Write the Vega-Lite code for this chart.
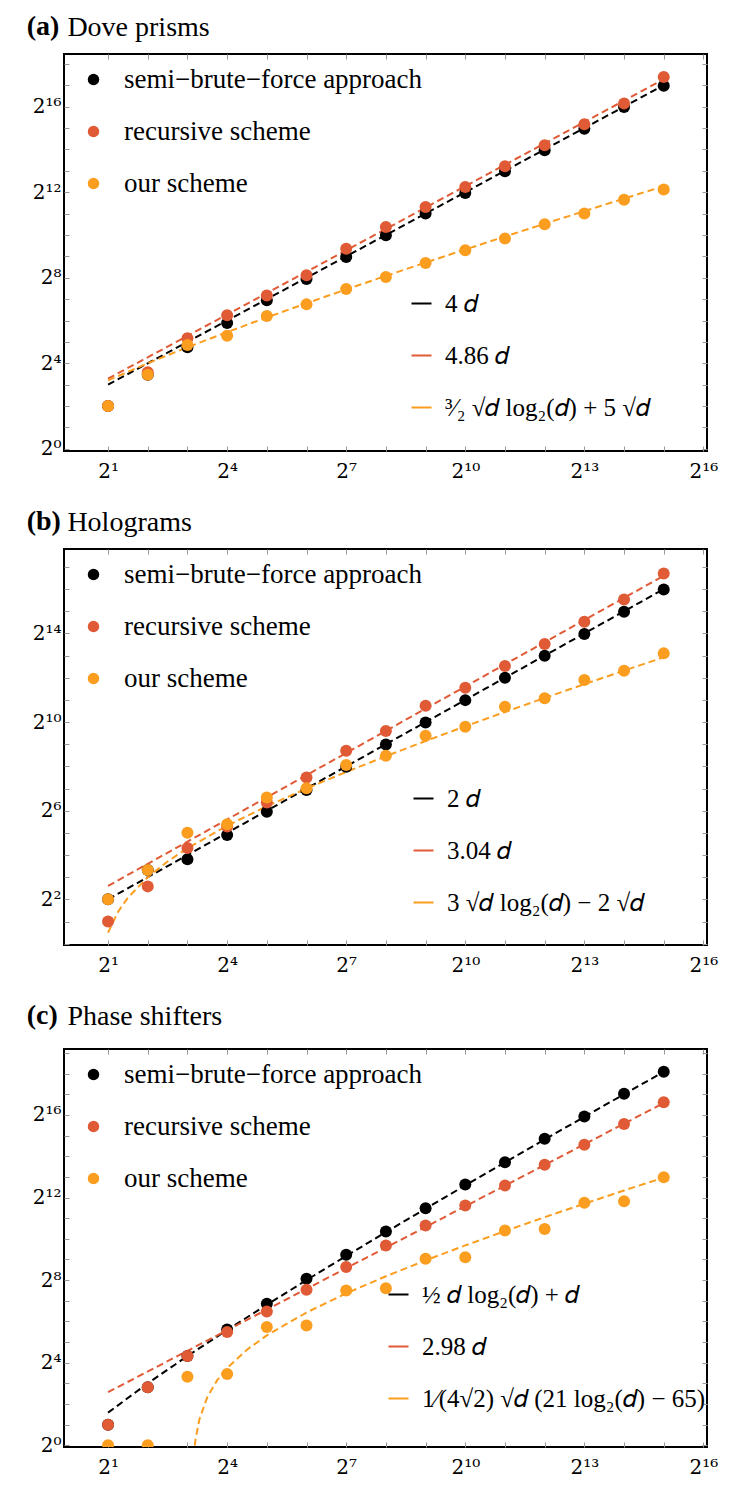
{
  "$schema": "https://vega.github.io/schema/vega-lite/v6.json",
  "background": "white",
  "padding": {"left": 26, "top": 12, "right": 0, "bottom": 0},
  "config": {
    "font": "Liberation Serif",
    "view": {"stroke": "black", "strokeWidth": 2},
    "axis": {"grid": false, "domain": false, "tickColor": "#999999", "tickWidth": 1, "tickSize": -5, "labelFont": "DejaVu Serif", "labelFontSize": 20, "labelColor": "black", "title": null, "labelOverlap": false, "labelFlush": false},
    "legend": {"labelFont": "Liberation Serif", "labelFontSize": 27, "labelColor": "black", "padding": 0, "rowPadding": 24, "labelLimit": 400},
    "title": {"font": "Liberation Serif", "fontSize": 28, "color": "black", "anchor": "start", "frame": "group", "baseline": "alphabetic"}
  },
  "resolve": {"scale": {"color": "independent", "stroke": "independent", "x": "independent", "y": "independent"}, "legend": {"color": "independent", "stroke": "independent"}},
  "spacing": 25,
  "datasets": {
    "a_pts": [
      {"method": "semi−brute−force approach", "d": 2, "gates": 4},
      {"method": "semi−brute−force approach", "d": 4, "gates": 11},
      {"method": "semi−brute−force approach", "d": 8, "gates": 27},
      {"method": "semi−brute−force approach", "d": 16, "gates": 59},
      {"method": "semi−brute−force approach", "d": 32, "gates": 123},
      {"method": "semi−brute−force approach", "d": 64, "gates": 246},
      {"method": "semi−brute−force approach", "d": 128, "gates": 502},
      {"method": "semi−brute−force approach", "d": 256, "gates": 1017},
      {"method": "semi−brute−force approach", "d": 512, "gates": 2048},
      {"method": "semi−brute−force approach", "d": 1024, "gates": 3984},
      {"method": "semi−brute−force approach", "d": 2048, "gates": 8079},
      {"method": "semi−brute−force approach", "d": 4096, "gates": 15935},
      {"method": "semi−brute−force approach", "d": 8192, "gates": 32093},
      {"method": "semi−brute−force approach", "d": 16384, "gates": 64640},
      {"method": "semi−brute−force approach", "d": 32768, "gates": 129250},
      {"method": "recursive scheme", "d": 2, "gates": 4},
      {"method": "recursive scheme", "d": 4, "gates": 12},
      {"method": "recursive scheme", "d": 8, "gates": 36},
      {"method": "recursive scheme", "d": 16, "gates": 76},
      {"method": "recursive scheme", "d": 32, "gates": 144},
      {"method": "recursive scheme", "d": 64, "gates": 278},
      {"method": "recursive scheme", "d": 128, "gates": 657},
      {"method": "recursive scheme", "d": 256, "gates": 1323},
      {"method": "recursive scheme", "d": 512, "gates": 2539},
      {"method": "recursive scheme", "d": 1024, "gates": 4837},
      {"method": "recursive scheme", "d": 2048, "gates": 9475},
      {"method": "recursive scheme", "d": 4096, "gates": 18691},
      {"method": "recursive scheme", "d": 8192, "gates": 36880},
      {"method": "recursive scheme", "d": 16384, "gates": 72250},
      {"method": "recursive scheme", "d": 32768, "gates": 170700},
      {"method": "our scheme", "d": 2, "gates": 4},
      {"method": "our scheme", "d": 4, "gates": 11},
      {"method": "our scheme", "d": 8, "gates": 29},
      {"method": "our scheme", "d": 16, "gates": 39},
      {"method": "our scheme", "d": 32, "gates": 74},
      {"method": "our scheme", "d": 64, "gates": 108},
      {"method": "our scheme", "d": 128, "gates": 178},
      {"method": "our scheme", "d": 256, "gates": 263},
      {"method": "our scheme", "d": 512, "gates": 413},
      {"method": "our scheme", "d": 1024, "gates": 626},
      {"method": "our scheme", "d": 2048, "gates": 910},
      {"method": "our scheme", "d": 4096, "gates": 1448},
      {"method": "our scheme", "d": 8192, "gates": 2048},
      {"method": "our scheme", "d": 16384, "gates": 3214},
      {"method": "our scheme", "d": 32768, "gates": 4451}
    ],
    "a_fit": [
      {"fit": "4 𝑑", "d": 2, "gates": 8},
      {"fit": "4 𝑑", "d": 32768, "gates": 131072},
      {"fit": "4.86 𝑑", "d": 2, "gates": 9.72},
      {"fit": "4.86 𝑑", "d": 32768, "gates": 159252},
      {"fit": "³⁄₂ √𝑑 log₂(𝑑) + 5 √𝑑", "d": 2, "gates": 9.19},
      {"fit": "³⁄₂ √𝑑 log₂(𝑑) + 5 √𝑑", "d": 4, "gates": 16},
      {"fit": "³⁄₂ √𝑑 log₂(𝑑) + 5 √𝑑", "d": 8, "gates": 26.87},
      {"fit": "³⁄₂ √𝑑 log₂(𝑑) + 5 √𝑑", "d": 16, "gates": 44},
      {"fit": "³⁄₂ √𝑑 log₂(𝑑) + 5 √𝑑", "d": 32, "gates": 70.71},
      {"fit": "³⁄₂ √𝑑 log₂(𝑑) + 5 √𝑑", "d": 64, "gates": 112},
      {"fit": "³⁄₂ √𝑑 log₂(𝑑) + 5 √𝑑", "d": 128, "gates": 175.4},
      {"fit": "³⁄₂ √𝑑 log₂(𝑑) + 5 √𝑑", "d": 256, "gates": 272},
      {"fit": "³⁄₂ √𝑑 log₂(𝑑) + 5 √𝑑", "d": 512, "gates": 418.6},
      {"fit": "³⁄₂ √𝑑 log₂(𝑑) + 5 √𝑑", "d": 1024, "gates": 640},
      {"fit": "³⁄₂ √𝑑 log₂(𝑑) + 5 √𝑑", "d": 2048, "gates": 973},
      {"fit": "³⁄₂ √𝑑 log₂(𝑑) + 5 √𝑑", "d": 4096, "gates": 1472},
      {"fit": "³⁄₂ √𝑑 log₂(𝑑) + 5 √𝑑", "d": 8192, "gates": 2217.5},
      {"fit": "³⁄₂ √𝑑 log₂(𝑑) + 5 √𝑑", "d": 16384, "gates": 3328},
      {"fit": "³⁄₂ √𝑑 log₂(𝑑) + 5 √𝑑", "d": 32768, "gates": 4978}
    ],
    "b_pts": [
      {"method": "semi−brute−force approach", "d": 2, "gates": 4},
      {"method": "semi−brute−force approach", "d": 4, "gates": 10},
      {"method": "semi−brute−force approach", "d": 8, "gates": 14},
      {"method": "semi−brute−force approach", "d": 16, "gates": 30},
      {"method": "semi−brute−force approach", "d": 32, "gates": 62},
      {"method": "semi−brute−force approach", "d": 64, "gates": 122},
      {"method": "semi−brute−force approach", "d": 128, "gates": 254},
      {"method": "semi−brute−force approach", "d": 256, "gates": 508},
      {"method": "semi−brute−force approach", "d": 512, "gates": 1010},
      {"method": "semi−brute−force approach", "d": 1024, "gates": 2034},
      {"method": "semi−brute−force approach", "d": 2048, "gates": 4096},
      {"method": "semi−brute−force approach", "d": 4096, "gates": 8135},
      {"method": "semi−brute−force approach", "d": 8192, "gates": 16047},
      {"method": "semi−brute−force approach", "d": 16384, "gates": 32316},
      {"method": "semi−brute−force approach", "d": 32768, "gates": 64635},
      {"method": "recursive scheme", "d": 2, "gates": 2},
      {"method": "recursive scheme", "d": 4, "gates": 6},
      {"method": "recursive scheme", "d": 8, "gates": 20},
      {"method": "recursive scheme", "d": 16, "gates": 39},
      {"method": "recursive scheme", "d": 32, "gates": 83},
      {"method": "recursive scheme", "d": 64, "gates": 181},
      {"method": "recursive scheme", "d": 128, "gates": 419},
      {"method": "recursive scheme", "d": 256, "gates": 776},
      {"method": "recursive scheme", "d": 512, "gates": 1710},
      {"method": "recursive scheme", "d": 1024, "gates": 2998},
      {"method": "recursive scheme", "d": 2048, "gates": 5914},
      {"method": "recursive scheme", "d": 4096, "gates": 11746},
      {"method": "recursive scheme", "d": 8192, "gates": 23655},
      {"method": "recursive scheme", "d": 16384, "gates": 47311},
      {"method": "recursive scheme", "d": 32768, "gates": 106463},
      {"method": "our scheme", "d": 2, "gates": 4},
      {"method": "our scheme", "d": 4, "gates": 10},
      {"method": "our scheme", "d": 8, "gates": 32},
      {"method": "our scheme", "d": 16, "gates": 42},
      {"method": "our scheme", "d": 32, "gates": 97},
      {"method": "our scheme", "d": 64, "gates": 129},
      {"method": "our scheme", "d": 128, "gates": 267},
      {"method": "our scheme", "d": 256, "gates": 357},
      {"method": "our scheme", "d": 512, "gates": 666},
      {"method": "our scheme", "d": 1024, "gates": 885},
      {"method": "our scheme", "d": 2048, "gates": 1652},
      {"method": "our scheme", "d": 4096, "gates": 2150},
      {"method": "our scheme", "d": 8192, "gates": 3822},
      {"method": "our scheme", "d": 16384, "gates": 5112},
      {"method": "our scheme", "d": 32768, "gates": 8780}
    ],
    "b_fit": [
      {"fit": "2 𝑑", "d": 2, "gates": 4},
      {"fit": "2 𝑑", "d": 32768, "gates": 65536},
      {"fit": "3.04 𝑑", "d": 2, "gates": 6.08},
      {"fit": "3.04 𝑑", "d": 32768, "gates": 99615},
      {"fit": "3 √𝑑 log₂(𝑑) − 2 √𝑑", "d": 2, "gates": 1.414},
      {"fit": "3 √𝑑 log₂(𝑑) − 2 √𝑑", "d": 2.378, "gates": 2.699},
      {"fit": "3 √𝑑 log₂(𝑑) − 2 √𝑑", "d": 2.828, "gates": 4.204},
      {"fit": "3 √𝑑 log₂(𝑑) − 2 √𝑑", "d": 4, "gates": 8},
      {"fit": "3 √𝑑 log₂(𝑑) − 2 √𝑑", "d": 5.657, "gates": 13.08},
      {"fit": "3 √𝑑 log₂(𝑑) − 2 √𝑑", "d": 8, "gates": 19.8},
      {"fit": "3 √𝑑 log₂(𝑑) − 2 √𝑑", "d": 16, "gates": 40},
      {"fit": "3 √𝑑 log₂(𝑑) − 2 √𝑑", "d": 32, "gates": 73.54},
      {"fit": "3 √𝑑 log₂(𝑑) − 2 √𝑑", "d": 64, "gates": 128},
      {"fit": "3 √𝑑 log₂(𝑑) − 2 √𝑑", "d": 128, "gates": 214.96},
      {"fit": "3 √𝑑 log₂(𝑑) − 2 √𝑑", "d": 256, "gates": 352},
      {"fit": "3 √𝑑 log₂(𝑑) − 2 √𝑑", "d": 512, "gates": 565.7},
      {"fit": "3 √𝑑 log₂(𝑑) − 2 √𝑑", "d": 1024, "gates": 896},
      {"fit": "3 √𝑑 log₂(𝑑) − 2 √𝑑", "d": 2048, "gates": 1402.9},
      {"fit": "3 √𝑑 log₂(𝑑) − 2 √𝑑", "d": 4096, "gates": 2176},
      {"fit": "3 √𝑑 log₂(𝑑) − 2 √𝑑", "d": 8192, "gates": 3348.9},
      {"fit": "3 √𝑑 log₂(𝑑) − 2 √𝑑", "d": 16384, "gates": 5120},
      {"fit": "3 √𝑑 log₂(𝑑) − 2 √𝑑", "d": 32768, "gates": 7783.9}
    ],
    "c_pts": [
      {"method": "semi−brute−force approach", "d": 2, "gates": 2},
      {"method": "semi−brute−force approach", "d": 4, "gates": 7},
      {"method": "semi−brute−force approach", "d": 8, "gates": 20},
      {"method": "semi−brute−force approach", "d": 16, "gates": 49},
      {"method": "semi−brute−force approach", "d": 32, "gates": 116},
      {"method": "semi−brute−force approach", "d": 64, "gates": 267},
      {"method": "semi−brute−force approach", "d": 128, "gates": 600},
      {"method": "semi−brute−force approach", "d": 256, "gates": 1305},
      {"method": "semi−brute−force approach", "d": 512, "gates": 2856},
      {"method": "semi−brute−force approach", "d": 1024, "gates": 6340},
      {"method": "semi−brute−force approach", "d": 2048, "gates": 13400},
      {"method": "semi−brute−force approach", "d": 4096, "gates": 29330},
      {"method": "semi−brute−force approach", "d": 8192, "gates": 61990},
      {"method": "semi−brute−force approach", "d": 16384, "gates": 132900},
      {"method": "semi−brute−force approach", "d": 32768, "gates": 279200},
      {"method": "recursive scheme", "d": 2, "gates": 2},
      {"method": "recursive scheme", "d": 4, "gates": 7},
      {"method": "recursive scheme", "d": 8, "gates": 20},
      {"method": "recursive scheme", "d": 16, "gates": 45},
      {"method": "recursive scheme", "d": 32, "gates": 89},
      {"method": "recursive scheme", "d": 64, "gates": 185},
      {"method": "recursive scheme", "d": 128, "gates": 396},
      {"method": "recursive scheme", "d": 256, "gates": 820},
      {"method": "recursive scheme", "d": 512, "gates": 1596},
      {"method": "recursive scheme", "d": 1024, "gates": 3126},
      {"method": "recursive scheme", "d": 2048, "gates": 6123},
      {"method": "recursive scheme", "d": 4096, "gates": 12247},
      {"method": "recursive scheme", "d": 8192, "gates": 24150},
      {"method": "recursive scheme", "d": 16384, "gates": 48290},
      {"method": "recursive scheme", "d": 32768, "gates": 99960},
      {"method": "our scheme", "d": 2, "gates": 1},
      {"method": "our scheme", "d": 4, "gates": 1},
      {"method": "our scheme", "d": 8, "gates": 10},
      {"method": "our scheme", "d": 16, "gates": 11},
      {"method": "our scheme", "d": 32, "gates": 53},
      {"method": "our scheme", "d": 64, "gates": 56},
      {"method": "our scheme", "d": 128, "gates": 181},
      {"method": "our scheme", "d": 256, "gates": 195},
      {"method": "our scheme", "d": 512, "gates": 523},
      {"method": "our scheme", "d": 1024, "gates": 553},
      {"method": "our scheme", "d": 2048, "gates": 1351},
      {"method": "our scheme", "d": 4096, "gates": 1428},
      {"method": "our scheme", "d": 8192, "gates": 3421},
      {"method": "our scheme", "d": 16384, "gates": 3615},
      {"method": "our scheme", "d": 32768, "gates": 8080}
    ],
    "c_fit": [
      {"fit": "½ 𝑑 log₂(𝑑) + 𝑑", "d": 2, "gates": 3},
      {"fit": "½ 𝑑 log₂(𝑑) + 𝑑", "d": 4, "gates": 8},
      {"fit": "½ 𝑑 log₂(𝑑) + 𝑑", "d": 8, "gates": 20},
      {"fit": "½ 𝑑 log₂(𝑑) + 𝑑", "d": 16, "gates": 48},
      {"fit": "½ 𝑑 log₂(𝑑) + 𝑑", "d": 32, "gates": 112},
      {"fit": "½ 𝑑 log₂(𝑑) + 𝑑", "d": 64, "gates": 256},
      {"fit": "½ 𝑑 log₂(𝑑) + 𝑑", "d": 128, "gates": 576},
      {"fit": "½ 𝑑 log₂(𝑑) + 𝑑", "d": 256, "gates": 1280},
      {"fit": "½ 𝑑 log₂(𝑑) + 𝑑", "d": 512, "gates": 2816},
      {"fit": "½ 𝑑 log₂(𝑑) + 𝑑", "d": 1024, "gates": 6144},
      {"fit": "½ 𝑑 log₂(𝑑) + 𝑑", "d": 2048, "gates": 13312},
      {"fit": "½ 𝑑 log₂(𝑑) + 𝑑", "d": 4096, "gates": 28672},
      {"fit": "½ 𝑑 log₂(𝑑) + 𝑑", "d": 8192, "gates": 61440},
      {"fit": "½ 𝑑 log₂(𝑑) + 𝑑", "d": 16384, "gates": 131072},
      {"fit": "½ 𝑑 log₂(𝑑) + 𝑑", "d": 32768, "gates": 278528},
      {"fit": "2.98 𝑑", "d": 2, "gates": 5.96},
      {"fit": "2.98 𝑑", "d": 32768, "gates": 97649},
      {"fit": "1⁄(4√2) √𝑑 (21 log₂(𝑑) − 65)", "d": 8.574, "gates": 0.0518},
      {"fit": "1⁄(4√2) √𝑑 (21 log₂(𝑑) − 65)", "d": 8.694, "gates": 0.271},
      {"fit": "1⁄(4√2) √𝑑 (21 log₂(𝑑) − 65)", "d": 8.877, "gates": 0.606},
      {"fit": "1⁄(4√2) √𝑑 (21 log₂(𝑑) − 65)", "d": 9.19, "gates": 1.179},
      {"fit": "1⁄(4√2) √𝑑 (21 log₂(𝑑) − 65)", "d": 9.849, "gates": 2.385},
      {"fit": "1⁄(4√2) √𝑑 (21 log₂(𝑑) − 65)", "d": 11.314, "gates": 5.055},
      {"fit": "1⁄(4√2) √𝑑 (21 log₂(𝑑) − 65)", "d": 13.454, "gates": 8.915},
      {"fit": "1⁄(4√2) √𝑑 (21 log₂(𝑑) − 65)", "d": 16, "gates": 13.43},
      {"fit": "1⁄(4√2) √𝑑 (21 log₂(𝑑) − 65)", "d": 22.627, "gates": 24.81},
      {"fit": "1⁄(4√2) √𝑑 (21 log₂(𝑑) − 65)", "d": 32, "gates": 40},
      {"fit": "1⁄(4√2) √𝑑 (21 log₂(𝑑) − 65)", "d": 64, "gates": 86.27},
      {"fit": "1⁄(4√2) √𝑑 (21 log₂(𝑑) − 65)", "d": 128, "gates": 164},
      {"fit": "1⁄(4√2) √𝑑 (21 log₂(𝑑) − 65)", "d": 256, "gates": 291.3},
      {"fit": "1⁄(4√2) √𝑑 (21 log₂(𝑑) − 65)", "d": 512, "gates": 496},
      {"fit": "1⁄(4√2) √𝑑 (21 log₂(𝑑) − 65)", "d": 1024, "gates": 820.2},
      {"fit": "1⁄(4√2) √𝑑 (21 log₂(𝑑) − 65)", "d": 2048, "gates": 1328},
      {"fit": "1⁄(4√2) √𝑑 (21 log₂(𝑑) − 65)", "d": 4096, "gates": 2115.6},
      {"fit": "1⁄(4√2) √𝑑 (21 log₂(𝑑) − 65)", "d": 8192, "gates": 3328},
      {"fit": "1⁄(4√2) √𝑑 (21 log₂(𝑑) − 65)", "d": 16384, "gates": 5181.6},
      {"fit": "1⁄(4√2) √𝑑 (21 log₂(𝑑) − 65)", "d": 32768, "gates": 8000}
    ]
  },
  "vconcat": [
    {
      "title": {"text": "(a)", "fontWeight": "bold", "dx": -37.3, "dy": 28.5, "offset": 0},
      "resolve": {"scale": {"color": "independent", "stroke": "independent"}},
      "vconcat": [
        {
          "title": {"text": "Dove prisms", "fontWeight": "normal", "dx": 3.4, "offset": 12},
          "width": 643,
          "height": 397,
          "resolve": {"axis": {"x": "independent", "y": "independent"}},
          "layer": [
            {
              "data": {"name": "a_fit"},
              "mark": {"type": "line", "strokeDash": [7, 4], "strokeWidth": 2, "clip": true},
              "encoding": {
                "x": {"field": "d", "type": "quantitative", "scale": {"type": "log", "base": 2, "domain": [0.9266, 69760], "nice": false}, "axis": {"orient": "bottom", "values": [2, 4, 8, 16, 32, 64, 128, 256, 512, 1024, 2048, 4096, 8192, 16384, 32768, 65536], "labelExpr": "datum.value == 2 ? '2¹' : datum.value == 16 ? '2⁴' : datum.value == 128 ? '2⁷' : datum.value == 1024 ? '2¹⁰' : datum.value == 8192 ? '2¹³' : datum.value == 65536 ? '2¹⁶' : ''", "labelPadding": 15}},
                "y": {"field": "gates", "type": "quantitative", "scale": {"type": "log", "base": 2, "domain": [0.933, 360600], "nice": false}, "axis": {"orient": "left", "values": [1, 2, 4, 8, 16, 32, 64, 128, 256, 512, 1024, 2048, 4096, 8192, 16384, 32768, 65536, 131072, 262144], "labelExpr": "datum.value == 1 ? '2⁰' : datum.value == 16 ? '2⁴' : datum.value == 256 ? '2⁸' : datum.value == 4096 ? '2¹²' : datum.value == 65536 ? '2¹⁶' : ''", "labelPadding": 8}},
                "stroke": {"field": "fit", "type": "nominal", "scale": {"domain": ["4 𝑑", "4.86 𝑑", "³⁄₂ √𝑑 log₂(𝑑) + 5 √𝑑"], "range": ["#000000", "#E05A35", "#FB9D1F"]}, "legend": {"orient": "none", "legendX": 345, "legendY": 237, "title": null, "symbolType": "stroke", "symbolSize": 400, "symbolStrokeWidth": 2, "labelOffset": 11, "labelFontSize": 25, "rowPadding": 26, "symbolDash": [1, 0]}}
              }
            },
            {
              "data": {"name": "a_pts"},
              "mark": {"type": "circle", "size": 144, "opacity": 1, "clip": true},
              "encoding": {
                "x": {"field": "d", "type": "quantitative", "scale": {"type": "log", "base": 2, "domain": [0.9266, 69760], "nice": false}, "axis": {"orient": "top", "labels": false, "values": [2, 4, 8, 16, 32, 64, 128, 256, 512, 1024, 2048, 4096, 8192, 16384, 32768, 65536]}},
                "y": {"field": "gates", "type": "quantitative", "scale": {"type": "log", "base": 2, "domain": [0.933, 360600], "nice": false}, "axis": {"orient": "right", "labels": false, "values": [1, 2, 4, 8, 16, 32, 64, 128, 256, 512, 1024, 2048, 4096, 8192, 16384, 32768, 65536, 131072, 262144]}},
                "color": {"field": "method", "type": "nominal", "scale": {"domain": ["semi−brute−force approach", "recursive scheme", "our scheme"], "range": ["#000000", "#E05A35", "#FB9D1F"]}, "legend": {"orient": "none", "legendX": 16, "legendY": 12, "title": null, "symbolType": "circle", "symbolSize": 132, "labelOffset": 17}}
              }
            }
          ]
        }
      ]
    },
    {
      "title": {"text": "(b)", "fontWeight": "bold", "dx": -37.3, "dy": 28.5, "offset": 0},
      "resolve": {"scale": {"color": "independent", "stroke": "independent"}},
      "vconcat": [
        {
          "title": {"text": "Holograms", "fontWeight": "normal", "dx": 3.4, "offset": 12},
          "width": 643,
          "height": 396,
          "resolve": {"axis": {"x": "independent", "y": "independent"}},
          "layer": [
            {
              "data": {"name": "b_fit"},
              "mark": {"type": "line", "strokeDash": [7, 4], "strokeWidth": 2, "clip": true},
              "encoding": {
                "x": {"field": "d", "type": "quantitative", "scale": {"type": "log", "base": 2, "domain": [0.9266, 69760], "nice": false}, "axis": {"orient": "bottom", "values": [2, 4, 8, 16, 32, 64, 128, 256, 512, 1024, 2048, 4096, 8192, 16384, 32768, 65536], "labelExpr": "datum.value == 2 ? '2¹' : datum.value == 16 ? '2⁴' : datum.value == 128 ? '2⁷' : datum.value == 1024 ? '2¹⁰' : datum.value == 8192 ? '2¹³' : datum.value == 65536 ? '2¹⁶' : ''", "labelPadding": 15}},
                "y": {"field": "gates", "type": "quantitative", "scale": {"type": "log", "base": 2, "domain": [0.959, 229800], "nice": false}, "axis": {"orient": "left", "values": [1, 2, 4, 8, 16, 32, 64, 128, 256, 512, 1024, 2048, 4096, 8192, 16384, 32768, 65536, 131072], "labelExpr": "datum.value == 4 ? '2²' : datum.value == 64 ? '2⁶' : datum.value == 1024 ? '2¹⁰' : datum.value == 16384 ? '2¹⁴' : ''", "labelPadding": 8}},
                "stroke": {"field": "fit", "type": "nominal", "scale": {"domain": ["2 𝑑", "3.04 𝑑", "3 √𝑑 log₂(𝑑) − 2 √𝑑"], "range": ["#000000", "#E05A35", "#FB9D1F"]}, "legend": {"orient": "none", "legendX": 347, "legendY": 237, "title": null, "symbolType": "stroke", "symbolSize": 400, "symbolStrokeWidth": 2, "labelOffset": 11, "labelFontSize": 25, "rowPadding": 26, "symbolDash": [1, 0]}}
              }
            },
            {
              "data": {"name": "b_pts"},
              "mark": {"type": "circle", "size": 144, "opacity": 1, "clip": true},
              "encoding": {
                "x": {"field": "d", "type": "quantitative", "scale": {"type": "log", "base": 2, "domain": [0.9266, 69760], "nice": false}, "axis": {"orient": "top", "labels": false, "values": [2, 4, 8, 16, 32, 64, 128, 256, 512, 1024, 2048, 4096, 8192, 16384, 32768, 65536]}},
                "y": {"field": "gates", "type": "quantitative", "scale": {"type": "log", "base": 2, "domain": [0.959, 229800], "nice": false}, "axis": {"orient": "right", "labels": false, "values": [1, 2, 4, 8, 16, 32, 64, 128, 256, 512, 1024, 2048, 4096, 8192, 16384, 32768, 65536, 131072]}},
                "color": {"field": "method", "type": "nominal", "scale": {"domain": ["semi−brute−force approach", "recursive scheme", "our scheme"], "range": ["#000000", "#E05A35", "#FB9D1F"]}, "legend": {"orient": "none", "legendX": 16, "legendY": 12, "title": null, "symbolType": "circle", "symbolSize": 132, "labelOffset": 17}}
              }
            }
          ]
        }
      ]
    },
    {
      "title": {"text": "(c)", "fontWeight": "bold", "dx": -37.3, "dy": 28.5, "offset": 0},
      "resolve": {"scale": {"color": "independent", "stroke": "independent"}},
      "vconcat": [
        {
          "title": {"text": "Phase shifters", "fontWeight": "normal", "dx": 3.4, "offset": 12},
          "width": 643,
          "height": 398,
          "resolve": {"axis": {"x": "independent", "y": "independent"}},
          "layer": [
            {
              "data": {"name": "c_fit"},
              "mark": {"type": "line", "strokeDash": [7, 4], "strokeWidth": 2, "clip": true},
              "encoding": {
                "x": {"field": "d", "type": "quantitative", "scale": {"type": "log", "base": 2, "domain": [0.9266, 69760], "nice": false}, "axis": {"orient": "bottom", "values": [2, 4, 8, 16, 32, 64, 128, 256, 512, 1024, 2048, 4096, 8192, 16384, 32768, 65536], "labelExpr": "datum.value == 2 ? '2¹' : datum.value == 16 ? '2⁴' : datum.value == 128 ? '2⁷' : datum.value == 1024 ? '2¹⁰' : datum.value == 8192 ? '2¹³' : datum.value == 65536 ? '2¹⁶' : ''", "labelPadding": 15}},
                "y": {"field": "gates", "type": "quantitative", "scale": {"type": "log", "base": 2, "domain": [0.946, 598100], "nice": false}, "axis": {"orient": "left", "values": [1, 2, 4, 8, 16, 32, 64, 128, 256, 512, 1024, 2048, 4096, 8192, 16384, 32768, 65536, 131072, 262144, 524288], "labelExpr": "datum.value == 1 ? '2⁰' : datum.value == 16 ? '2⁴' : datum.value == 256 ? '2⁸' : datum.value == 4096 ? '2¹²' : datum.value == 65536 ? '2¹⁶' : ''", "labelPadding": 8}},
                "stroke": {"field": "fit", "type": "nominal", "scale": {"domain": ["½ 𝑑 log₂(𝑑) + 𝑑", "2.98 𝑑", "1⁄(4√2) √𝑑 (21 log₂(𝑑) − 65)"], "range": ["#000000", "#E05A35", "#FB9D1F"]}, "legend": {"orient": "none", "legendX": 322, "legendY": 233, "title": null, "symbolType": "stroke", "symbolSize": 400, "symbolStrokeWidth": 2, "labelOffset": 11, "labelFontSize": 25, "rowPadding": 26, "symbolDash": [1, 0]}}
              }
            },
            {
              "data": {"name": "c_pts"},
              "mark": {"type": "circle", "size": 144, "opacity": 1, "clip": true},
              "encoding": {
                "x": {"field": "d", "type": "quantitative", "scale": {"type": "log", "base": 2, "domain": [0.9266, 69760], "nice": false}, "axis": {"orient": "top", "labels": false, "values": [2, 4, 8, 16, 32, 64, 128, 256, 512, 1024, 2048, 4096, 8192, 16384, 32768, 65536]}},
                "y": {"field": "gates", "type": "quantitative", "scale": {"type": "log", "base": 2, "domain": [0.946, 598100], "nice": false}, "axis": {"orient": "right", "labels": false, "values": [1, 2, 4, 8, 16, 32, 64, 128, 256, 512, 1024, 2048, 4096, 8192, 16384, 32768, 65536, 131072, 262144, 524288]}},
                "color": {"field": "method", "type": "nominal", "scale": {"domain": ["semi−brute−force approach", "recursive scheme", "our scheme"], "range": ["#000000", "#E05A35", "#FB9D1F"]}, "legend": {"orient": "none", "legendX": 16, "legendY": 12, "title": null, "symbolType": "circle", "symbolSize": 132, "labelOffset": 17}}
              }
            }
          ]
        }
      ]
    }
  ]
}
